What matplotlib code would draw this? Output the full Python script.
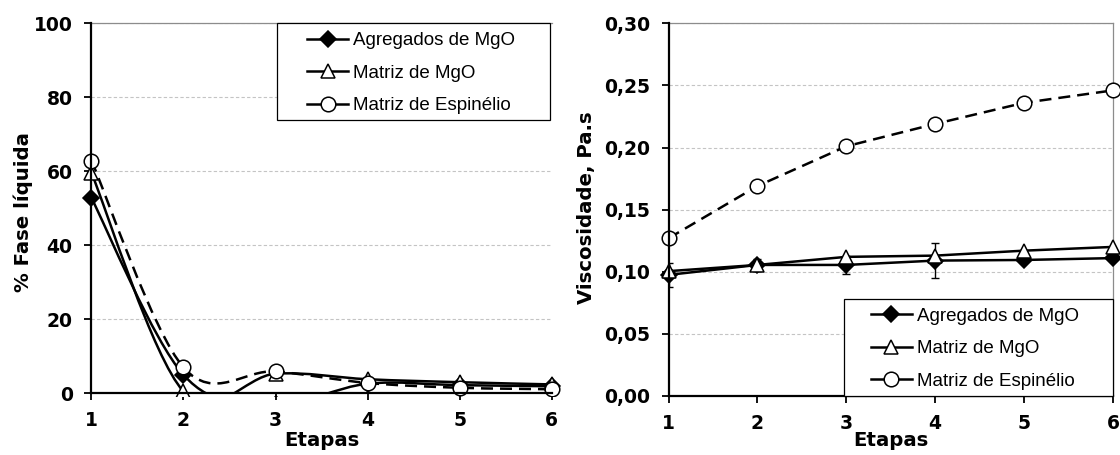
import numpy as np
import matplotlib
matplotlib.use("Agg")
import matplotlib.pyplot as plt
from matplotlib.path import Path
from matplotlib.patches import PathPatch, Rectangle
from matplotlib.lines import Line2D
from matplotlib.ticker import FuncFormatter

# ---- data -----------------------------------------------------------------
etapas = [1, 2, 3, 4, 5, 6]
series_names = ["Agregados de MgO", "Matriz de MgO", "Matriz de Espinélio"]

# % fase líquida per stage
fase_agregados = [52.8, 5.0, -2.8, 2.6, 2.2, 1.9]
fase_matriz_mgo = [59.6, 0.5, 5.3, 3.8, 3.0, 2.4]
fase_espinelio = [62.9, 7.0, 5.9, 2.8, 1.5, 1.1]

# viscosity (Pa.s) per stage
visc_agregados = [0.0975, 0.1055, 0.1055, 0.109, 0.1095, 0.111]
visc_agregados_err = [0.0095, 0.005, 0.0075, 0.0138, 0.0, 0.0]
visc_matriz_mgo = [0.1005, 0.1055, 0.112, 0.113, 0.117, 0.120]
visc_espinelio = [0.127, 0.169, 0.201, 0.219, 0.236, 0.246]

fase_ticks = [0, 20, 40, 60, 80, 100]
visc_ticks = [0.00, 0.05, 0.10, 0.15, 0.20, 0.25, 0.30]

# ---- style ----------------------------------------------------------------
W, H = 1120, 455
TICK_FONT = dict(family="DejaVu Sans", weight="bold", size=13.5)
LABEL_FONT = dict(family="DejaVu Sans", weight="bold", size=14.2)
LEG_FONT = dict(family="Liberation Sans", size=13.5)
LW = 1.8
DASH = (0, (4.8, 2.8))

styles = [
    dict(marker="D", ms=8.0, mfc="black", mec="black", ls="-"),
    dict(marker="^", ms=10.0, mfc="white", mec="black", ls="-"),
    dict(marker="o", ms=10.5, mfc="white", mec="black", ls="--"),
]


def smooth_path(x, y):
    """Cubic Bezier path through the points (Catmull-Rom style tangents)."""
    pts = np.column_stack([x, y]).astype(float)
    n = len(pts)
    verts = [pts[0]]
    codes = [Path.MOVETO]
    for i in range(n - 1):
        p0 = pts[max(i - 1, 0)]
        p1 = pts[i]
        p2 = pts[i + 1]
        p3 = pts[min(i + 2, n - 1)]
        verts += [p1 + (p2 - p0) / 6.0, p2 - (p3 - p1) / 6.0, p2]
        codes += [Path.CURVE4] * 3
    return Path(verts, codes)


fig = plt.figure(figsize=(W / 100, H / 100), dpi=100)
fig.patch.set_facecolor("white")


def px_axes(x0, x1, ytop, ybot):
    return fig.add_axes([x0 / W, 1 - ybot / H, (x1 - x0) / W, (ybot - ytop) / H])


ax1 = px_axes(91.4, 551.8, 23.3, 393.3)
ax2 = px_axes(668.6, 1112.9, 23.3, 396.0)


def style_axes(ax, right_border):
    ax.set_facecolor("white")
    for s in ("left", "bottom"):
        ax.spines[s].set_linewidth(1.6)
        ax.spines[s].set_color("black")
        ax.spines[s].set_zorder(6)
    ax.spines["top"].set_color("#8c8c8c")
    ax.spines["top"].set_linewidth(0.9)
    ax.spines["right"].set_visible(right_border)
    ax.spines["right"].set_color("#8c8c8c")
    ax.spines["right"].set_linewidth(0.9)
    ax.set_xlim(1, 6)
    ax.set_xticks(etapas)
    ax.tick_params(axis="both", direction="out", length=5, width=1.3,
                   color="black")
    ax.tick_params(axis="y", pad=8.5)
    ax.tick_params(axis="x", pad=8)
    ax.tick_params(top=False, right=False)
    for lab in ax.get_xticklabels() + ax.get_yticklabels():
        lab.set_fontfamily(TICK_FONT["family"])
        lab.set_fontweight(TICK_FONT["weight"])
        lab.set_fontsize(TICK_FONT["size"])
    ax.yaxis.grid(True, color="#c4c4c4", ls=(0, (3, 2)), lw=0.8)
    ax.set_axisbelow(True)


# ---- left panel: % fase líquida ------------------------------------------
ax1.set_ylim(0, 100)
ax1.set_yticks(fase_ticks)
style_axes(ax1, right_border=False)

marker_clip = Rectangle((-0.05, -0.008), 1.10, 1.06, transform=ax1.transAxes,
                        visible=False)
ax1.add_artist(marker_clip)

for vals, st in zip([fase_agregados, fase_matriz_mgo, fase_espinelio], styles):
    ls = DASH if st["ls"] == "--" else "-"
    patch = PathPatch(smooth_path(etapas, vals), fill=False, edgecolor="black",
                      lw=LW, ls=ls, capstyle="butt", zorder=3)
    ax1.add_patch(patch)
    ln, = ax1.plot(etapas, vals, ls="none", marker=st["marker"], ms=st["ms"],
                   mfc=st["mfc"], mec=st["mec"], mew=1.1, zorder=4)
    ln.set_clip_path(marker_clip)

ax1.set_ylabel("% Fase líquida", **LABEL_FONT)
ax1.yaxis.set_label_coords(-0.149, 0.49)
ax1.yaxis.label.set_va("center")
ax1.set_xlabel("Etapas", **LABEL_FONT)
ax1.xaxis.set_label_coords(0.5, -0.103)

# ---- right panel: viscosidade --------------------------------------------
ax2.set_ylim(0, 0.30)
ax2.set_yticks(visc_ticks)
ax2.yaxis.set_major_formatter(FuncFormatter(lambda v, p: f"{v:.2f}".replace(".", ",")))
style_axes(ax2, right_border=True)

ax2.errorbar(etapas, visc_agregados, yerr=visc_agregados_err, fmt="none",
             ecolor="black", elinewidth=1.0, capsize=3.0, capthick=1.0,
             zorder=2.5)
for vals, st in zip([visc_agregados, visc_matriz_mgo, visc_espinelio], styles):
    ls = DASH if st["ls"] == "--" else "-"
    ax2.plot(etapas, vals, color="black", lw=LW, ls=ls, marker=st["marker"],
             ms=st["ms"], mfc=st["mfc"], mec=st["mec"], mew=1.1, zorder=3,
             clip_on=False, dash_capstyle="butt")

ax2.set_ylabel("Viscosidade, Pa.s", **LABEL_FONT)
ax2.yaxis.set_label_coords(-0.184, 0.506)
ax2.yaxis.label.set_va("center")
ax2.set_xlabel("Etapas", **LABEL_FONT)
ax2.xaxis.set_label_coords(0.5, -0.095)

# ---- legends ---------------------------------------------------------------
handles = [Line2D([], [], color="black", lw=LW, marker=st["marker"], ms=st["ms"],
                  mfc=st["mfc"], mec=st["mec"], mew=1.1) for st in styles]


def boxed_legend(box, anchor):
    x0, x1, y0, y1 = box
    fig.add_artist(Rectangle((x0 / W, 1 - y1 / H), (x1 - x0) / W, (y1 - y0) / H,
                             transform=fig.transFigure, facecolor="white",
                             edgecolor="black", lw=0.9, zorder=4))
    leg = fig.legend(handles, series_names, loc="upper left",
                     bbox_to_anchor=(anchor[0] / W, 1 - anchor[1] / H),
                     bbox_transform=fig.transFigure, frameon=False,
                     borderpad=0, borderaxespad=0, handlelength=2.2,
                     handletextpad=0.25, labelspacing=0.83,
                     prop=LEG_FONT)
    leg.set_zorder(5)
    return leg


boxed_legend((277, 550, 23.3, 120), (307, 32.0))
boxed_legend((844, 1113, 299, 396), (870.7, 307.5))

fig.savefig("out.png", dpi=100, facecolor="white")
